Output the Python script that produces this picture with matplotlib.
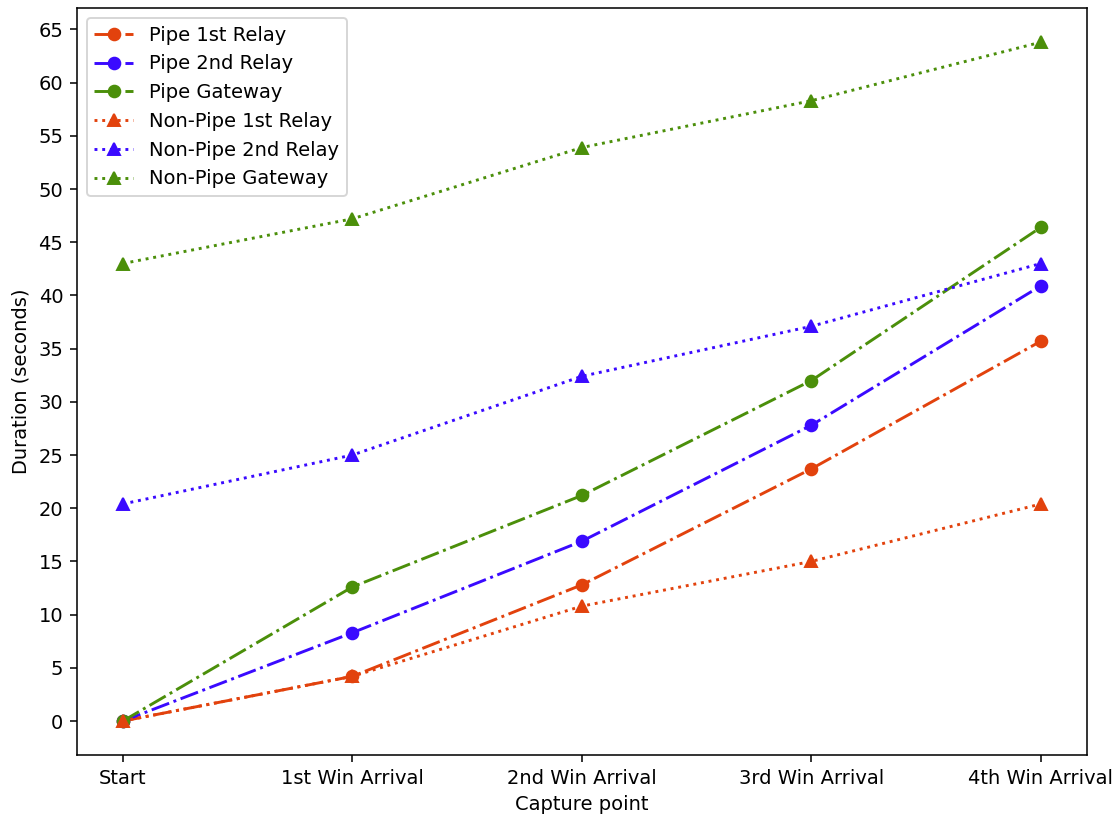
import matplotlib.pyplot as plt

capture_points = ['Start', '1st Win Arrival', '2nd Win Arrival', '3rd Win Arrival', '4th Win Arrival']

pipe_1st_relay = [0, 4.2, 12.8, 23.7, 35.7]
pipe_2nd_relay = [0, 8.3, 16.9, 27.8, 40.9]
pipe_gateway = [0, 12.6, 21.2, 32.0, 46.4]
nonpipe_1st_relay = [0, 4.2, 10.8, 15.0, 20.4]
nonpipe_2nd_relay = [20.4, 25.0, 32.4, 37.1, 43.0]
nonpipe_gateway = [43.0, 47.2, 53.9, 58.3, 63.8]

red = '#e2420d'
blue = '#3a0aff'
green = '#4b8f0a'

dpi = 140
fig = plt.figure(figsize=(1117 / dpi, 817 / dpi), dpi=dpi)
ax = fig.add_axes([0.0689, 0.0759, 0.904, 0.914])

x = range(len(capture_points))
ax.plot(x, pipe_1st_relay, '-.', marker='o', color=red, label='Pipe 1st Relay')
ax.plot(x, pipe_2nd_relay, '-.', marker='o', color=blue, label='Pipe 2nd Relay')
ax.plot(x, pipe_gateway, '-.', marker='o', color=green, label='Pipe Gateway')
ax.plot(x, nonpipe_1st_relay, ':', marker='^', color=red, label='Non-Pipe 1st Relay')
ax.plot(x, nonpipe_2nd_relay, ':', marker='^', color=blue, label='Non-Pipe 2nd Relay')
ax.plot(x, nonpipe_gateway, ':', marker='^', color=green, label='Non-Pipe Gateway')

ax.set_xticks(list(x))
ax.set_xticklabels(capture_points)
ax.set_yticks(range(0, 70, 5))
ax.set_xlabel('Capture point')
ax.set_ylabel('Duration (seconds)')
ax.legend(loc='upper left')

fig.savefig('out.png', dpi=dpi)
